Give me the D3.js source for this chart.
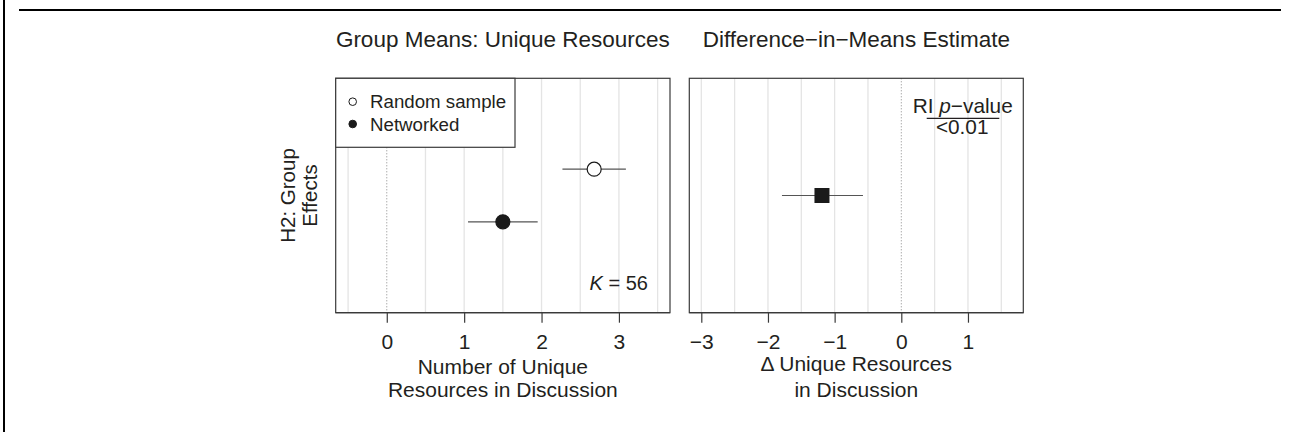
<!DOCTYPE html>
<html>
<head>
<meta charset="utf-8">
<script src="https://cdn.jsdelivr.net/npm/d3@7"></script>
<style>
  html, body { margin: 0; padding: 0; background: #fff; }
  svg { display: block; }
  text { font-family: "Liberation Sans", Arial, Helvetica, sans-serif; fill: #231f20; }
</style>
</head>
<body>
<svg id="chart" width="1293" height="432"></svg>
<script>
// ---- data ----
const groups = ["Random sample", "Networked"];
const groupMeans = [2.68, 1.50];
const groupLow = [2.27, 1.05];
const groupHigh = [3.09, 1.95];
const groupFilled = [false, true];

const diffLabels = ["Difference"];
const diffEst = [-1.19];
const diffLow = [-1.79];
const diffHigh = [-0.575];

const ticksLeft = [0, 1, 2, 3];
const ticksRight = [-3, -2, -1, 0, 1];
const gridLeft = [-0.5, 0.5, 1, 1.5, 2, 2.5, 3, 3.5];
const gridRight = [-3, -2.5, -2, -1.5, -1, -0.5, 0.5, 1, 1.5];

const titleLeft = "Group Means: Unique Resources";
const titleRight = "Difference\u2212in\u2212Means Estimate";
const xLabelLeft = ["Number of Unique", "Resources in Discussion"];
const xLabelRight = ["\u0394 Unique Resources", "in Discussion"];
const yLabel = ["H2: Group", "Effects"];
const kLabel = "56";
const pLabel = "<0.01";

// ---- layout ----
const svg = d3.select("#chart");
const topY = 78.3, botY = 312.7;
const P1 = { l: 335.7, r: 670 };
const P2 = { l: 689.3, r: 1023.3 };

const x1 = d3.scaleLinear().domain([-0.66, 3.66]).range([P1.l, P1.r]);
const x2 = d3.scaleLinear().domain([-3.18, 1.83]).range([P2.l, P2.r]);
const y1 = d3.scalePoint().domain(groups).range([topY, botY]).padding(1.73);
const y2 = d3.scalePoint().domain(diffLabels).range([topY, botY]).padding(1);

const fmt = d => String(d).replace("-", "\u2212");

// decorative frame
svg.append("line").attr("x1", 4).attr("x2", 4).attr("y1", 0).attr("y2", 432)
  .attr("stroke", "#000").attr("stroke-width", 2);
svg.append("line").attr("x1", 19).attr("x2", 1281).attr("y1", 10).attr("y2", 10)
  .attr("stroke", "#000").attr("stroke-width", 2);

function panel(x, P, grid, ticks) {
  const g = svg.append("g");
  g.selectAll("line.grid").data(grid).join("line")
    .attr("x1", d => x(d)).attr("x2", d => x(d))
    .attr("y1", topY).attr("y2", botY)
    .attr("stroke", "#e4e4e4").attr("stroke-width", 1.3);
  g.append("line")
    .attr("x1", x(0)).attr("x2", x(0)).attr("y1", topY).attr("y2", botY)
    .attr("stroke", "#888").attr("stroke-width", 1).attr("stroke-dasharray", "1,2");
  g.append("rect").attr("x", P.l).attr("y", topY)
    .attr("width", P.r - P.l).attr("height", botY - topY)
    .attr("fill", "none").attr("stroke", "#3a3a3a").attr("stroke-width", 1.2);
  const axis = d3.axisBottom(x).tickValues(ticks).tickSize(10).tickPadding(8).tickFormat(fmt);
  const ag = g.append("g").attr("transform", `translate(0,${botY})`).call(axis);
  ag.select(".domain").attr("stroke", "#3a3a3a").attr("stroke-width", 1.2)
    .attr("d", `M${P.l},0H${P.r}`);
  ag.selectAll(".tick line").attr("stroke", "#3a3a3a").attr("stroke-width", 1.2);
  ag.selectAll(".tick text")
    .style("font-family", '"Liberation Sans", Arial, sans-serif')
    .style("font-size", "21px").attr("fill", "#231f20").attr("dy", "0.85em");
  return g;
}

const g1 = panel(x1, P1, gridLeft, ticksLeft);
const g2 = panel(x2, P2, gridRight, ticksRight);

// titles
svg.append("text").attr("x", (P1.l + P1.r) / 2).attr("y", 47)
  .attr("text-anchor", "middle").style("font-size", "22.5px").text(titleLeft);
svg.append("text").attr("x", (P2.l + P2.r) / 2).attr("y", 47)
  .attr("text-anchor", "middle").style("font-size", "22.5px").text(titleRight);

// x labels
xLabelLeft.forEach((t, i) => {
  svg.append("text").attr("x", (P1.l + P1.r) / 2).attr("y", i === 0 ? 374 : 397.3)
    .attr("text-anchor", "middle").style("font-size", "21px").text(t);
});
xLabelRight.forEach((t, i) => {
  svg.append("text").attr("x", (P2.l + P2.r) / 2).attr("y", i === 0 ? 371 : 397.3)
    .attr("text-anchor", "middle").style("font-size", "21px").text(t);
});

// y label
const ymid = (topY + botY) / 2;
yLabel.forEach((t, i) => {
  svg.append("text")
    .attr("transform", `translate(${i === 0 ? 295 : 317},${ymid}) rotate(-90)`)
    .attr("text-anchor", "middle").style("font-size", "20.5px").text(t);
});

// group means
const idx = d3.range(groups.length);
g1.selectAll("line.ci").data(idx).join("line")
  .attr("x1", i => x1(groupLow[i])).attr("x2", i => x1(groupHigh[i]))
  .attr("y1", i => y1(groups[i])).attr("y2", i => y1(groups[i]))
  .attr("stroke", "#555").attr("stroke-width", 1.2);
g1.selectAll("circle.pt").data(idx).join("circle")
  .attr("cx", i => x1(groupMeans[i])).attr("cy", i => y1(groups[i]))
  .attr("r", 7)
  .attr("fill", i => groupFilled[i] ? "#1a1a1a" : "#fff")
  .attr("stroke", "#1a1a1a").attr("stroke-width", 1.2);

// K label
const kt = g1.append("text").attr("x", 648).attr("y", 290)
  .attr("text-anchor", "end").style("font-size", "20px");
kt.append("tspan").style("font-style", "italic").text("K");
kt.append("tspan").text(" = " + kLabel);

// legend
const lg = g1.append("g");
lg.append("rect").attr("x", P1.l).attr("y", topY).attr("width", 515 - P1.l).attr("height", 147.3 - topY)
  .attr("fill", "#fff").attr("stroke", "#3a3a3a").attr("stroke-width", 1.2);
groups.forEach((gname, i) => {
  const yy = i === 0 ? 101.7 : 124;
  lg.append("circle").attr("cx", 352.7).attr("cy", yy).attr("r", 3.8)
    .attr("fill", groupFilled[i] ? "#1a1a1a" : "#fff")
    .attr("stroke", "#1a1a1a").attr("stroke-width", 1);
  lg.append("text").attr("x", 370).attr("y", yy).attr("dy", "0.35em")
    .style("font-size", "18.7px").text(gname);
});

// difference estimate
const di = d3.range(diffLabels.length);
g2.selectAll("line.ci").data(di).join("line")
  .attr("x1", i => x2(diffLow[i])).attr("x2", i => x2(diffHigh[i]))
  .attr("y1", i => y2(diffLabels[i])).attr("y2", i => y2(diffLabels[i]))
  .attr("stroke", "#555").attr("stroke-width", 1.2);
g2.selectAll("rect.pt").data(di).join("rect")
  .attr("x", i => x2(diffEst[i]) - 7.5).attr("y", i => y2(diffLabels[i]) - 7.5)
  .attr("width", 15).attr("height", 15).attr("fill", "#1a1a1a");

// RI p-value
const rt = g2.append("text").attr("x", 912.7).attr("y", 113.3).style("font-size", "20.8px");
rt.append("tspan").text("RI ");
rt.append("tspan").style("font-style", "italic").text("p");
rt.append("tspan").text("\u2212value");
g2.append("line").attr("x1", 926.7).attr("x2", 999.3).attr("y1", 118.3).attr("y2", 118.3)
  .attr("stroke", "#231f20").attr("stroke-width", 1.2);
g2.append("text").attr("x", 962.2).attr("y", 134.3).attr("text-anchor", "middle")
  .style("font-size", "20.8px").text(pLabel);
</script>
</body>
</html>
